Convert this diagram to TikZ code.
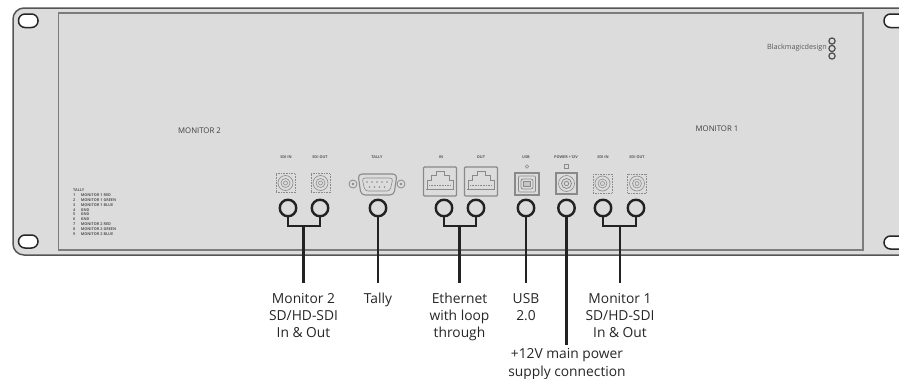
\documentclass[tikz,border=0pt]{standalone}
\usepackage{fontspec}
\setmainfont{Open Sans}
\usetikzlibrary{calc}
\definecolor{panelfill}{HTML}{DCDCDC}
\definecolor{paneledge}{HTML}{555555}
\definecolor{inneredge}{HTML}{7C7C7C}
\definecolor{portline}{HTML}{8A8A8A}
\definecolor{lead}{HTML}{222222}
\definecolor{tiny}{HTML}{5A5A5A}
\tikzset{
  x=1pt,y=-1pt,
  panel/.style={draw=paneledge,line width=1.5pt,fill=panelfill},
  innerpanel/.style={draw=inneredge,line width=1.4pt,fill=panelfill},
  hole/.style={draw=black!85,line width=1.5pt,fill=white,rounded corners=6.5pt},
  ring/.style={circle,draw=lead,line width=2.4pt,minimum size=16.5pt,inner sep=0pt,fill=none},
  lead/.style={draw=lead,line width=2.2pt},
  callout/.style={anchor=north,align=center,font=\fontsize{13.8}{17}\selectfont,text=black!85,inner xsep=0pt,inner ysep=10pt},
  porttext/.style={font=\bfseries\fontsize{3.8}{4}\selectfont,text=tiny,inner sep=0pt},
  monitortext/.style={font=\fontsize{7.8}{9}\selectfont,text=black!75,inner sep=0pt},
  port/.style={draw=portline,line width=0.8pt},
  thinport/.style={draw=portline,line width=0.6pt},
}
\newcommand{\bncport}[2]{%
  \draw[thinport,densely dotted,line width=0.9pt] (#1-9.5,#2-9.5) rectangle (#1+9.5,#2+9.5);
  \draw[thinport] (#1,#2) circle (7.5pt);
  \draw[thinport] (#1,#2) circle (4.5pt);
  \draw[thinport] (#1,#2) circle (2pt);}
\newcommand{\ethport}[2]{%
  \draw[port,line width=1.2pt,rounded corners=1pt] (#1-16.5,#2-14.5) rectangle (#1+16.5,#2+14.5);
  \draw[thinport,line width=0.8pt] (#1-13,#2+7) -- (#1-13,#2-1) -- (#1-9,#2-1) -- (#1-9,#2-6) -- (#1-4,#2-6) -- (#1-4,#2-10) -- (#1+4,#2-10) -- (#1+4,#2-6) -- (#1+9,#2-6) -- (#1+9,#2-1) -- (#1+13,#2-1) -- (#1+13,#2+7);
  \draw[thinport,densely dotted,line width=1.6pt] (#1-11,#2+4) -- (#1+11,#2+4);
  \draw[thinport] (#1-14,#2+8) -- (#1+14,#2+8);}
\begin{document}
\begin{tikzpicture}
\useasboundingbox (0,0) rectangle (899,378);
\clip (0,0) rectangle (899,378);
% panel
\path[panel,rounded corners=11pt] (13,8) rectangle (930,255);
\path[innerpanel] (58.5,13) rectangle (863,250);
\path[hole] (18.5,14) rectangle (38,27.5);
\path[hole] (18.5,235) rectangle (38,248);
\path[hole] (884,14) rectangle (910,27.5);
\path[hole] (884,236) rectangle (910,249);
% logo and panel texts
\node[font=\fontsize{7.2}{8}\selectfont,text=black!65,inner sep=0pt,anchor=east] (logo) at (827,48) {Blackmagicdesign};
\foreach \yy in {41,48.5,56}{\draw[draw=black!70,line width=1.2pt] (832,\yy) circle (3.1pt);}
\node[monitortext] (mon2) at (199.5,130.5) {MONITOR 2};
\node[monitortext] (mon1) at (717,128.5) {MONITOR 1};
\node[anchor=north west,inner sep=0pt,align=left,font=\bfseries\fontsize{3.8}{4.8}\selectfont,text=tiny] (tallylist) at (73,189) {TALLY\\
1\quad\, MONITOR 1 RED\\2\quad\, MONITOR 1 GREEN\\3\quad\, MONITOR 1 BLUE\\4\quad\, GND\\5\quad\, GND\\6\quad\, GND\\7\quad\, MONITOR 2 RED\\8\quad\, MONITOR 2 GREEN\\9\quad\, MONITOR 2 BLUE};
% port labels
\node[porttext] (p1) at (286,157) {SDI IN};
\node[porttext] (p2) at (320,157) {SDI OUT};
\node[porttext] (p3) at (377,157) {TALLY};
\node[porttext] (p4) at (441,157) {IN};
\node[porttext] (p5) at (481,157) {OUT};
\node[porttext] (p6) at (526,157) {USB};
\node[porttext] (p7) at (566,157) {POWER +12V};
\node[porttext] (p8) at (603,157) {SDI IN};
\node[porttext] (p9) at (637,157) {SDI OUT};
% ports
\bncport{285.5}{183}
\bncport{320.5}{183}
\bncport{602.5}{183.5}
\bncport{637}{183.5}
% D-sub
\draw[port,line width=1.1pt,rounded corners=4pt] (358,174) -- (397,174) -- (394,195) -- (361,195) -- cycle;
\draw[thinport,rounded corners=3pt] (362,178) -- (393,178) -- (390,191) -- (365,191) -- cycle;
\foreach \xx in {367,372,377,382,387}{\fill[portline] (\xx,182) circle (0.9pt);}
\foreach \xx in {369.5,374.5,379.5,384.5}{\fill[portline] (\xx,187) circle (0.9pt);}
\foreach \xx in {353,401}{\draw[port] (\xx,184) circle (4pt); \fill[portline] (\xx,184) circle (1.3pt);}
% ethernet
\ethport{440}{181.5}
\ethport{481}{181.5}
% USB
\draw[port,line width=1.1pt] (515,173) rectangle (539,195);
\draw[thinport,rounded corners=1pt] (518.5,176) rectangle (535.5,192);
\draw[port,rounded corners=2pt] (521,179) -- (533,179) -- (533,189) -- (521,189) -- cycle;
\draw[draw=portline,fill=portline!50] (523.5,181) rectangle (530.5,186);
\draw[thinport] (527,166.5) circle (1.8pt);
% power
\draw[port,line width=1.1pt] (556,173) rectangle (577,194);
\draw[thinport] (566.5,183.5) circle (8pt);
\draw[port] (566.5,183.5) circle (5pt);
\draw[port] (566.5,183.5) circle (2.2pt);
\draw[thinport] (564.5,164.5) rectangle (568.5,168.5);
% rings
\node[ring] (r1) at (288,208) {};
\node[ring] (r2) at (320,208) {};
\node[ring] (r3) at (378,208) {};
\node[ring] (r4) at (444,208) {};
\node[ring] (r5) at (476,208) {};
\node[ring] (r6) at (526,208) {};
\node[ring] (r7) at (566.5,208) {};
\node[ring] (r8) at (603,208) {};
\node[ring] (r9) at (636,208) {};
% labels
\node[callout] (lmon2) at (303.5,283) {Monitor 2\\SD/HD-SDI\\In \& Out};
\node[callout] (ltally) at (378,283) {Tally};
\node[callout] (leth) at (459.5,283) {Ethernet\\with loop\\through};
\node[callout] (lusb) at (526,283) {USB\\2.0};
\node[callout] (lmon1) at (620,283) {Monitor 1\\SD/HD-SDI\\In \& Out};
\node[callout,inner ysep=3pt,font=\fontsize{13.8}{18}\selectfont] (lpow) at (567,345) {+12V main power\\supply connection};
% connectors
\coordinate (j1) at (303.5,226);
\coordinate (j2) at (459.5,226);
\coordinate (j3) at (620,226);
\draw[lead,line join=miter] (r1.south) |- (j1) -| (r2.south);
\draw[lead] (j1) -- (lmon2.north);
\draw[lead] (r3.south) -- (r3.south |- ltally.north);
\draw[lead,line join=miter] (r4.south) |- (j2) -| (r5.south);
\draw[lead] (j2) -- (leth.north);
\draw[lead] (r6.south) -- (lusb.north);
\draw[lead] (r7.south) -- (r7.south |- lpow.north);
\draw[lead,line join=miter] (r8.south) |- (j3) -| (r9.south);
\draw[lead] (j3) -- (lmon1.north);
\end{tikzpicture}
\end{document}
